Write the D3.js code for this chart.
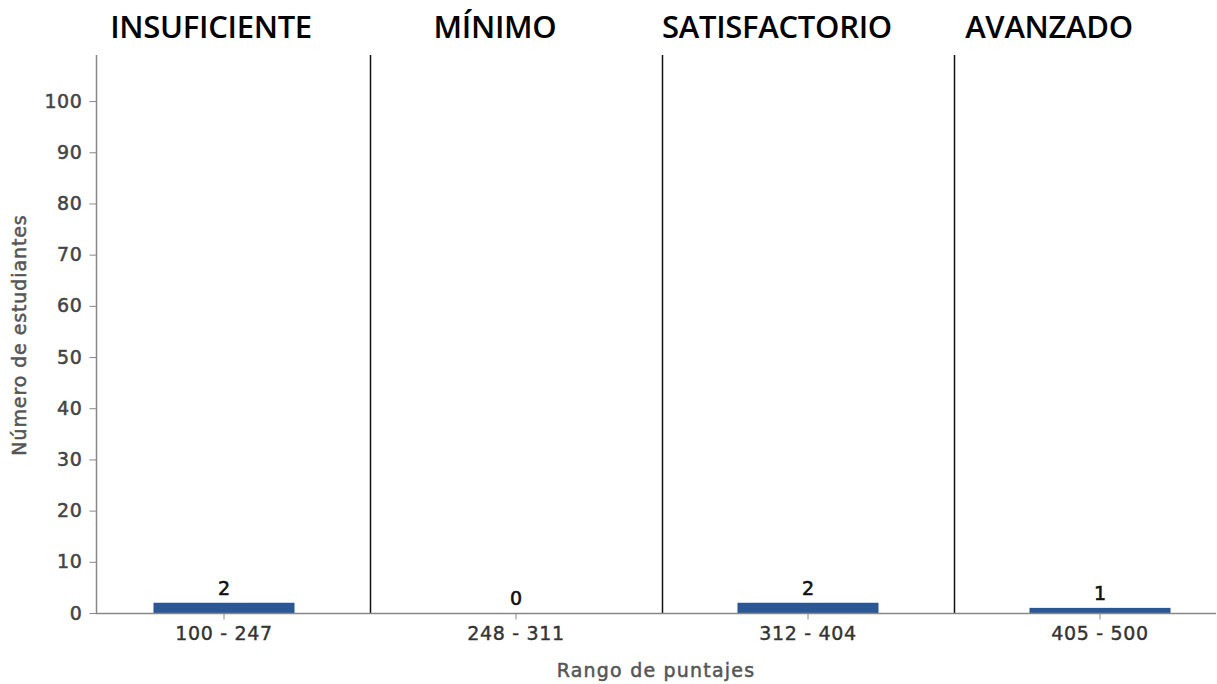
<!DOCTYPE html>
<html>
<head>
<meta charset="utf-8">
<script src="https://cdn.jsdelivr.net/npm/d3@7"></script>
<style>
  html, body { margin: 0; padding: 0; background: #fff; }
  svg { display: block; }
</style>
</head>
<body>
<svg id="chart" width="1217" height="684"></svg>
<script>
// ---- data ----
const categories = ["100 - 247", "248 - 311", "312 - 404", "405 - 500"];
const levels = ["INSUFICIENTE", "MÍNIMO", "SATISFACTORIO", "AVANZADO"];
const counts = [2, 0, 2, 1];
const yTicks = [0, 10, 20, 30, 40, 50, 60, 70, 80, 90, 100];
const xTitle = "Rango de puntajes";
const yTitle = "Número de estudiantes";

// ---- layout ----
const W = 1217, H = 684;
const plot = { left: 96, right: 1216, top: 55, bottom: 613 };
const headerDx = [-13, -21, -31, -51];
const FONT = "DejaVu Sans, Verdana, sans-serif";

const svg = d3.select("#chart");

const x = d3.scaleBand()
  .domain(categories)
  .range([78, 1246])
  .paddingInner(0.517)
  .paddingOuter(0.2585);

const y = d3.scaleLinear()
  .domain([0, 109])
  .range([plot.bottom, plot.top]);

// dividers between bands
const step = x.step();
svg.append("g").selectAll("line")
  .data(categories.slice(1))
  .join("line")
  .attr("x1", d => Math.round(x(d) + x.bandwidth() / 2 - step / 2) + 0.5)
  .attr("x2", d => Math.round(x(d) + x.bandwidth() / 2 - step / 2) + 0.5)
  .attr("y1", plot.top)
  .attr("y2", plot.bottom)
  .attr("stroke", "#111")
  .attr("stroke-width", 1.5);

// bars
svg.append("g").selectAll("rect")
  .data(counts)
  .join("rect")
  .attr("x", (d, i) => x(categories[i]))
  .attr("width", x.bandwidth())
  .attr("y", d => y(d))
  .attr("height", d => y(0) - y(d))
  .attr("fill", "#2b5894");

// value labels
svg.append("g").selectAll("text")
  .data(counts)
  .join("text")
  .attr("x", (d, i) => x(categories[i]) + x.bandwidth() / 2)
  .attr("y", d => y(d) - 8)
  .attr("text-anchor", "middle")
  .attr("font-family", FONT)
  .attr("font-size", 19)
  .attr("fill", "#111")
  .attr("stroke", "#111")
  .attr("stroke-width", 0.6)
  .text(d => d);

// y axis
const yAxis = svg.append("g")
  .attr("transform", `translate(${plot.left + 0.5},0)`)
  .call(d3.axisLeft(y).tickValues(yTicks).tickSize(7).tickPadding(7));
yAxis.select(".domain").attr("d", `M0,${plot.top}V${plot.bottom}`).attr("stroke", "#888").attr("stroke-width", 1.5);
yAxis.selectAll(".tick line").attr("stroke", "#888");
yAxis.selectAll(".tick text")
  .attr("font-family", FONT)
  .attr("font-size", 19)
  .attr("letter-spacing", 0.6)
  .attr("fill", "#444")
  .attr("stroke", "#444")
  .attr("stroke-width", 0.5);

// x axis
const xAxis = svg.append("g")
  .attr("transform", `translate(0,${plot.bottom + 0.5})`)
  .call(d3.axisBottom(x).tickSize(6).tickPadding(7));
xAxis.select(".domain").attr("d", `M${plot.left},0H${plot.right}`).attr("stroke", "#888").attr("stroke-width", 1.5);
xAxis.selectAll(".tick line").attr("stroke", "#888");
xAxis.selectAll(".tick text")
  .attr("font-family", FONT)
  .attr("font-size", 19)
  .attr("letter-spacing", 0.7)
  .attr("fill", "#333")
  .attr("stroke", "#333")
  .attr("stroke-width", 0.4);

// headers
svg.append("g").selectAll("text")
  .data(levels)
  .join("text")
  .attr("x", (d, i) => x(categories[i]) + x.bandwidth() / 2 + headerDx[i])
  .attr("y", 38)
  .attr("text-anchor", "middle")
  .attr("font-family", "Open Sans, sans-serif")
  .attr("font-weight", 600)
  .attr("font-size", 31)
  .attr("letter-spacing", -0.3)
  .attr("fill", "#000")
  .text(d => d);

// axis titles
svg.append("text")
  .attr("x", 656)
  .attr("y", 677)
  .attr("text-anchor", "middle")
  .attr("font-family", FONT)
  .attr("font-size", 19)
  .attr("letter-spacing", 1.2)
  .attr("fill", "#555")
  .attr("stroke", "#555")
  .attr("stroke-width", 0.5)
  .text(xTitle);

svg.append("text")
  .attr("transform", `translate(26,335) rotate(-90)`)
  .attr("text-anchor", "middle")
  .attr("font-family", FONT)
  .attr("font-size", 19)
  .attr("letter-spacing", 0.9)
  .attr("fill", "#555")
  .attr("stroke", "#555")
  .attr("stroke-width", 0.5)
  .text(yTitle);
</script>
</body>
</html>
